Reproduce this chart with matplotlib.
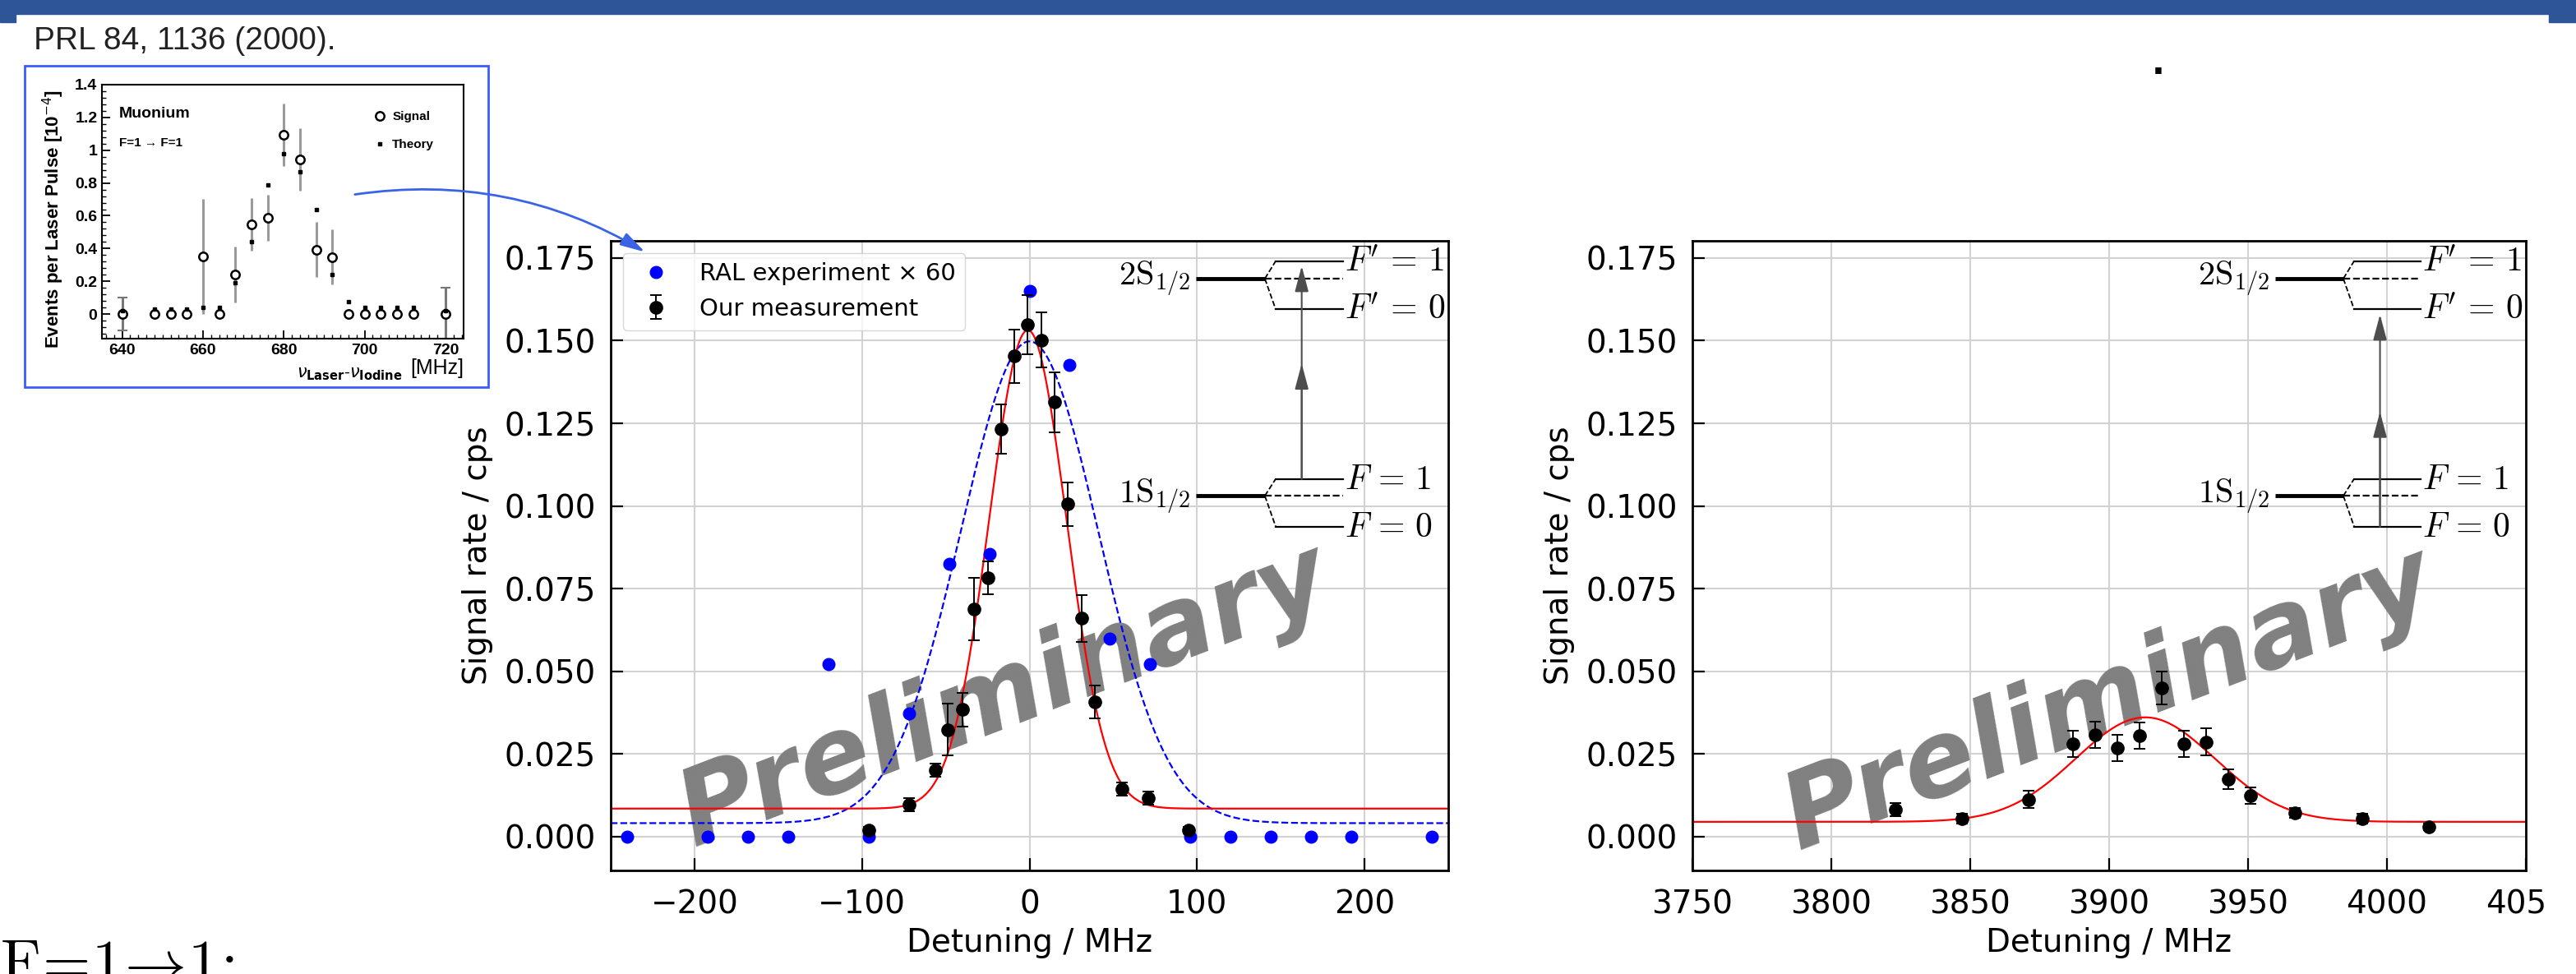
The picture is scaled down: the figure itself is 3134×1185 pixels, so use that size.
import numpy as np
import matplotlib
matplotlib.use("Agg")
import matplotlib.pyplot as plt
from matplotlib.patches import Rectangle, FancyArrowPatch
from matplotlib.ticker import MultipleLocator, FormatStrFormatter

# --- RAL data, PRL 84, 1136 (2000), inset ---
ral_freq = [640, 648, 652, 656, 660, 664, 668, 672, 676, 680,
            684, 688, 692, 696, 700, 704, 708, 712, 720]
ral_signal = [0, 0, 0, 0, 0.352, 0, 0.243, 0.549, 0.587, 1.094,
              0.945, 0.394, 0.349, 0, 0, 0, 0, 0, 0]
ral_signal_err = [0.10, 0, 0, 0, 0.35, 0, 0.17, 0.16, 0.14, 0.19,
                  0.19, 0.17, 0.17, 0, 0, 0, 0, 0, 0.16]
ral_theory = [0.02, 0.03, 0.03, 0.03, 0.04, 0.04, 0.19, 0.44, 0.79, 0.98,
              0.87, 0.64, 0.24, 0.075, 0.04, 0.04, 0.04, 0.04, 0.02]

# --- left panel: F=1 -> F'=1 ---
ral_det = [-240, -192, -168, -144, -120, -96, -72, -48, -24, 0,
           24, 48, 72, 96, 120, 144, 168, 192, 240]
ral_rate = [0, 0, 0, 0, 0.0523, 0, 0.0372, 0.0826, 0.0854, 0.165,
            0.1426, 0.0598, 0.0523, 0, 0, 0, 0, 0, 0]
f11_det = [-96, -72, -56, -49, -40, -33, -25, -17, -9, -1,
           7, 15, 23, 31, 39, 55, 71, 95]
f11_rate = [0.0019, 0.0097, 0.0201, 0.0324, 0.0384, 0.0688, 0.0783, 0.1232, 0.1453, 0.1548,
            0.1502, 0.1314, 0.1006, 0.0660, 0.0407, 0.0143, 0.0116, 0.0019]
f11_err = [0.001, 0.002, 0.002, 0.0078, 0.005, 0.0095, 0.005, 0.0075, 0.008, 0.009,
           0.0083, 0.009, 0.0066, 0.007, 0.005, 0.002, 0.002, 0.001]
# fit parameters: amplitude, centre, sigma, offset
f11_fit = [0.1447, -1.0, 23.0, 0.0085]
ral_fit = [0.1457, 0.0, 41.0, 0.0041]

# --- right panel: F=0 -> F'=0 ---
f00_det = [3823, 3847, 3871, 3887, 3895, 3903, 3911, 3919, 3927, 3935,
           3943, 3951, 3967, 3991, 4015]
f00_rate = [0.0083, 0.0055, 0.0113, 0.0281, 0.0308, 0.0269, 0.0306, 0.0450, 0.0281, 0.0287,
            0.0174, 0.0124, 0.0072, 0.0054, 0.0029]
f00_err = [0.002, 0.0015, 0.0025, 0.004, 0.004, 0.004, 0.004, 0.005, 0.004, 0.004,
           0.003, 0.0025, 0.0015, 0.0015, 0.001]
f00_fit = [0.0316, 3913.0, 25.0, 0.0045]


def gauss(x, amp, centre, sigma, offset):
    return amp * np.exp(-0.5 * ((x - centre) / sigma) ** 2) + offset


W, H = 3134, 1185
fig = plt.figure(figsize=(W / 100, H / 100), dpi=100)


def px(x0, y0, x1, y1):
    # figure rectangle from pixel box (top-left origin)
    return [x0 / W, 1 - y1 / H, (x1 - x0) / W, (y1 - y0) / H]


def style_main(ax, xlim, xticks):
    ax.set_xlim(*xlim)
    ax.set_ylim(-0.0102, 0.1802)
    ax.set_xticks(xticks)
    ax.set_yticks(np.arange(0, 0.176, 0.025))
    ax.yaxis.set_major_formatter(FormatStrFormatter("%.3f"))
    ax.grid(True, color="#d2d2d2", lw=1.5)
    ax.set_axisbelow(True)
    ax.tick_params(direction="in", length=11, width=1.6, labelsize=28)
    ax.tick_params(axis="x", pad=16)
    ax.tick_params(axis="y", pad=13)
    for s in ax.spines.values():
        s.set_linewidth(2)
    ax.set_xlabel("Detuning / MHz", fontsize=28, labelpad=6)
    ax.set_ylabel("Signal rate / cps", fontsize=28, labelpad=10)


def level_diagram(ax, y_from, y_to):
    kw = dict(transform=ax.transAxes, color="black", clip_on=False)
    levels = [(0.94, 0.968, 0.891, r"$2\mathrm{S}_{1/2}$", r"$F'\,=\,1$", r"$F'\,=\,0$"),
              (0.595, 0.622, 0.546, r"$1\mathrm{S}_{1/2}$", r"$F\,=\,1$", r"$F\,=\,0$")]
    for ym, yu, yd, name, lu, ld in levels:
        ax.plot([0.699, 0.781], [ym, ym], lw=3.5, solid_capstyle="butt", **kw)
        ax.plot([0.781, 0.794], [ym, yu], ls="--", lw=1.3, **kw)
        ax.plot([0.781, 0.794], [ym, yd], ls="--", lw=1.3, **kw)
        ax.plot([0.781, 0.874], [ym, ym], ls="--", lw=1.6, **kw)
        ax.plot([0.794, 0.874], [yu, yu], lw=1.6, **kw)
        ax.plot([0.794, 0.874], [yd, yd], lw=1.6, **kw)
        ax.text(0.692, ym, name, transform=ax.transAxes, ha="right", va="center",
                fontsize=29, math_fontfamily="cm")
        ax.text(0.876, yu, lu, transform=ax.transAxes, ha="left", va="center",
                fontsize=30, math_fontfamily="cm")
        ax.text(0.876, yd, ld, transform=ax.transAxes, ha="left", va="center",
                fontsize=30, math_fontfamily="cm")
    ap = dict(arrowstyle="-|>,head_length=0.6,head_width=0.16", color="#4d4d4d",
              lw=1.5, mutation_scale=32, shrinkA=0, shrinkB=0)
    x = 0.825
    ax.annotate("", xy=(x, y_to - 0.008), xytext=(x, y_from),
                xycoords="axes fraction", arrowprops=ap)
    ax.annotate("", xy=(x, (y_from + y_to) / 2 + 0.01), xytext=(x, y_from),
                xycoords="axes fraction", arrowprops=ap)


def watermark(ax, x, y):
    ax.text(x, y, "Preliminary", transform=ax.transAxes, fontsize=93,
            fontweight="bold", fontstyle="italic", color="#808080",
            rotation=21, ha="center", va="center", zorder=1.5)


# left panel
ax1 = fig.add_axes(px(743, 293, 1762, 1059))
xs1 = np.linspace(-250, 250, 800)
ax1.plot(xs1, gauss(xs1, *ral_fit), "--", color="blue", lw=1.6)
ax1.plot(xs1, gauss(xs1, *f11_fit), "-", color="red", lw=1.6)
ax1.plot(ral_det, ral_rate, "o", ls="none", color="blue", ms=10.5,
         label="RAL experiment × 60")
ax1.errorbar(f11_det, f11_rate, yerr=f11_err, fmt="o", color="black", ms=11,
             capsize=5, elinewidth=1.4, capthick=1.4, label="Our measurement")
style_main(ax1, (-250, 250), [-200, -100, 0, 100, 200])
ax1.legend(loc="upper left", fontsize=21)
level_diagram(ax1, 0.622, 0.968)
watermark(ax1, 0.47, 0.275)

# right panel
ax2 = fig.add_axes(px(2059, 293, 3073, 1059))
xs2 = np.linspace(3750, 4050, 800)
ax2.plot(xs2, gauss(xs2, *f00_fit), "-", color="red", lw=1.6)
ax2.errorbar(f00_det, f00_rate, yerr=f00_err, fmt="o", color="black", ms=11,
             capsize=5, elinewidth=1.4, capthick=1.4)
style_main(ax2, (3750, 4050), np.arange(3750, 4051, 50))
level_diagram(ax2, 0.546, 0.891)
watermark(ax2, 0.50, 0.27)

# inset with the RAL result
axi = fig.add_axes(px(124, 103, 564, 412))
axi.errorbar(ral_freq, ral_signal, yerr=ral_signal_err, fmt="none",
             ecolor="#9a9a9a", elinewidth=2.2)
axi.errorbar([ral_freq[0], ral_freq[-1]], [ral_signal[0], ral_signal[-1]],
             yerr=[ral_signal_err[0], ral_signal_err[-1]], fmt="none",
             ecolor="#777777", elinewidth=2.0, capsize=4, capthick=1.5)
axi.plot(ral_freq, ral_signal, "o", ls="none", ms=7.5, mfc="white", mec="black",
         mew=1.8, label="Signal")
axi.plot(ral_freq, ral_theory, "s", ls="none", ms=3.2, color="black", label="Theory")
axi.set_xlim(635, 724.5)
axi.set_ylim(-0.15, 1.4)
axi.xaxis.set_major_locator(MultipleLocator(20))
axi.xaxis.set_minor_locator(MultipleLocator(2))
axi.yaxis.set_major_locator(MultipleLocator(0.2))
axi.yaxis.set_minor_locator(MultipleLocator(0.04))
axi.yaxis.set_major_formatter(FormatStrFormatter("%g"))
axi.tick_params(which="both", direction="in", top=False, right=False)
axi.tick_params(which="major", length=7, width=1.3, pad=4)
axi.tick_params(which="minor", length=3.5, width=1.0)
for lab in axi.get_xticklabels() + axi.get_yticklabels():
    lab.set_fontfamily("Liberation Sans")
    lab.set_fontweight("bold")
    lab.set_fontsize(14)
for s in axi.spines.values():
    s.set_linewidth(1.5)
axi.text(0.048, 0.886, "Muonium", transform=axi.transAxes, fontsize=14,
         fontweight="bold", family="Liberation Sans", va="center")
axi.text(0.048, 0.77, "F=1 → F=1", transform=axi.transAxes, fontsize=11,
         fontweight="bold", family="Liberation Sans", va="center")
axi.legend(loc="upper right", bbox_to_anchor=(0.95, 0.94), frameon=False,
           labelspacing=1.3, handlelength=0.8, handletextpad=0.6,
           prop=dict(family="Liberation Sans", weight="bold", size=11))
axi.text(-0.135, 0.47, r"Events per Laser Pulse [10$^{-4}$]", transform=axi.transAxes,
         rotation=90, ha="center", va="center", fontsize=16, fontweight="bold",
         family="Liberation Sans")
axi.text(0.83, -0.14, r"$\nu_{\mathbf{Laser}}$-$\nu_{\mathbf{Iodine}}$", transform=axi.transAxes,
         ha="right", va="center", fontsize=15, family="Liberation Sans")
axi.text(1.0, -0.115, "[MHz]", transform=axi.transAxes, ha="right", va="center",
         fontsize=18, family="Liberation Sans")
fig.add_artist(Rectangle((30 / W, 1 - 471 / H), 564 / W, 391 / H, transform=fig.transFigure,
                         fill=False, edgecolor="#3a5cff", lw=2))

# arrow from the inset to the legend
fig.add_artist(FancyArrowPatch(posA=(429 / W, 1 - 237 / H), posB=(787 / W, 1 - 308 / H),
                               transform=fig.transFigure, connectionstyle="arc3,rad=-0.18",
                               arrowstyle="-|>,head_length=0.9,head_width=0.25",
                               mutation_scale=20, color="#3a63e6", lw=2, zorder=5))

# slide decorations
band = "#2e5597"
fig.add_artist(Rectangle((0, 1 - 17 / H), 1, 17 / H, transform=fig.transFigure,
                         color=band, zorder=10))
fig.add_artist(Rectangle((0, 1 - 27 / H), 19 / W, 27 / H, transform=fig.transFigure,
                         color=band, zorder=10))
fig.add_artist(Rectangle((3101 / W, 1 - 27 / H), 33 / W, 27 / H, transform=fig.transFigure,
                         color=band, zorder=10))
fig.add_artist(Rectangle((3098 / W, 0), 36 / W, 0.1, transform=fig.transFigure,
                         color="white", zorder=10))
fig.text(41 / W, 1 - 60 / H, "PRL 84, 1136 (2000).", fontsize=28,
         family="Liberation Sans", color="#222222", va="baseline")
fig.text(2626 / W, 1 - 90 / H, ".", fontsize=30, fontweight="bold",
         ha="center", va="baseline")
# slide text cut by the bottom edge, as in the reference
fig.text(0.0, -0.009, r"$\mathrm{F}\!=\!1\!\rightarrow\!1\!:$", fontsize=54,
         math_fontfamily="cm", va="baseline", ha="left")

fig.savefig("out.png", dpi=100)
